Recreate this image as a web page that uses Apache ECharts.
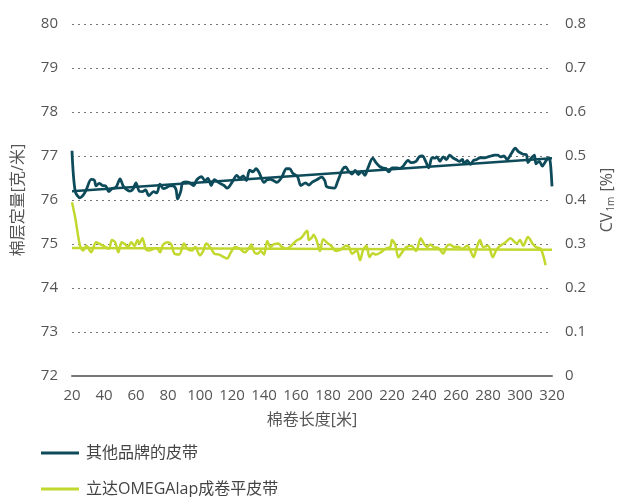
<!DOCTYPE html>
<html>
<head>
<meta charset="utf-8">
<script src="https://cdn.jsdelivr.net/npm/echarts@6/dist/echarts.min.js"></script>
<style>
	html, body {margin: 0; padding: 0; background: #fff;}
	#main {width: 625px; height: 497px;}
</style>
</head>
<body>
<div id="main"></div>
<script>
// 棉卷长度 [米] / 棉层定量 [克/米]
var otherX = [20,22,25,27,29,32,34,35,37,39,41,43,45,47,48,50,52,54,56,58,60,62,64,66,68,71,73,75,77,79,81,83,85,86,88,89,91,93,96,98,101,103,105,107,109,112,115,117,120,123,125,127,129,131,133,135,137,140,142,144,146,148,151,154,156,158,161,163,166,168,170,173,176,178,179,181,184,186,189,191,193,195,197,199,201,203,205,208,210,212,214,216,218,220,223,225,227,230,232,235,237,239,241,243,245,247,248,250,252,254,256,258,260,262,264,265,267,269,271,273,275,278,280,282,284,286,288,290,292,294,295,297,299,302,304,305,307,309,310,312,314,316,318,319,320];
var otherY = [77.12,76.2,76.05,76.11,76.24,76.47,76.45,76.32,76.38,76.33,76.32,76.19,76.26,76.28,76.32,76.48,76.32,76.24,76.2,76.24,76.39,76.2,76.19,76.23,76.1,76.19,76.16,76.36,76.26,76.28,76.32,76.32,76.24,76.02,76.2,76.39,76.41,76.4,76.33,76.46,76.53,76.44,76.49,76.33,76.46,76.39,76.33,76.27,76.4,76.56,76.49,76.55,76.44,76.68,76.64,76.71,76.62,76.4,76.46,76.47,76.44,76.4,76.51,76.71,76.71,76.61,76.53,76.33,76.39,76.34,76.4,76.46,76.52,76.44,76.31,76.28,76.27,76.42,76.69,76.75,76.65,76.59,76.67,76.58,76.65,76.56,76.73,76.95,76.85,76.77,76.73,76.72,76.64,76.73,76.73,76.72,76.77,76.9,76.85,76.88,76.98,77.0,76.88,76.73,76.96,76.95,76.98,76.88,76.98,76.92,77.02,76.96,76.92,76.88,76.92,76.82,76.9,76.81,76.9,76.92,76.96,76.96,76.98,77.0,77.02,77.02,76.98,77.0,76.92,77.02,77.08,77.18,77.1,77.04,77.03,76.85,76.95,77.02,76.82,76.88,76.77,76.88,76.96,76.84,76.31];
var otherTrendX = [20, 320];
var otherTrendY = [76.2, 76.95];

// CV 1m [%]
var omegaX = [20,22,25,27,29,32,35,37,41,43,45,47,49,51,53,55,57,59,61,62,64,66,68,71,73,75,77,80,82,84,87,90,92,95,97,100,102,104,107,109,112,115,117,119,122,125,128,131,132,134,136,138,140,142,144,146,149,151,154,157,160,163,167,168,170,171,173,175,177,180,182,185,188,191,193,195,198,200,202,204,206,208,210,213,216,219,220,222,224,227,229,232,235,238,240,242,244,246,249,252,254,256,259,261,264,267,269,271,273,275,277,280,283,285,287,291,294,296,298,300,302,305,308,310,313,316];
var omegaY = [0.395,0.36,0.296,0.285,0.296,0.281,0.304,0.301,0.293,0.289,0.309,0.304,0.281,0.304,0.3,0.293,0.304,0.296,0.309,0.301,0.313,0.289,0.285,0.289,0.291,0.281,0.299,0.304,0.299,0.278,0.276,0.301,0.289,0.285,0.293,0.274,0.284,0.301,0.289,0.278,0.276,0.27,0.267,0.279,0.293,0.289,0.281,0.293,0.299,0.281,0.278,0.284,0.276,0.307,0.293,0.299,0.301,0.294,0.289,0.296,0.307,0.313,0.33,0.309,0.315,0.321,0.307,0.284,0.311,0.301,0.296,0.284,0.287,0.296,0.294,0.278,0.285,0.263,0.287,0.296,0.27,0.279,0.276,0.281,0.289,0.294,0.309,0.299,0.27,0.285,0.293,0.296,0.284,0.313,0.3,0.293,0.299,0.293,0.291,0.278,0.294,0.299,0.293,0.294,0.289,0.296,0.285,0.27,0.293,0.309,0.293,0.296,0.27,0.285,0.294,0.304,0.313,0.307,0.301,0.309,0.296,0.316,0.3,0.293,0.289,0.252];
var omegaTrendX = [20, 320];
var omegaTrendY = [0.291, 0.287];

var seriesNames = ["其他品牌的皮带", "立达OMEGAlap成卷平皮带"];
var colors = ["#0e4b5a", "#c3d82e"];
var fontFamily = "'Open Sans', 'Noto Sans CJK SC', sans-serif";
var textColor = "#555";

function pairs(xs, ys){
	return xs.map(function(x, i){ return [x, ys[i]]; });
}

function lineSeries(name, data, color, axisIdx, width, silent){
	return {
		name: name,
		type: "line",
		yAxisIndex: axisIdx,
		data: data,
		showSymbol: false,
		symbol: "none",
		smooth: 0.3,
		silent: !!silent,
		lineStyle: {color: color, width: width},
		itemStyle: {color: color},
		z: silent ? 3 : 2
	};
}

// one legend per row, the bottom strip is too short for a vertical list
function legendRow(name, top){
	return {
		data: [name],
		left: 36,
		top: top,
		itemWidth: 38,
		itemHeight: 3,
		icon: "rect",
		selectedMode: false,
		textStyle: {fontSize: 16, color: "#444", fontFamily: fontFamily, padding: [0, 0, 0, 2]}
	};
}

var chart = echarts.init(document.getElementById("main"));
var gridLine = {show: true, lineStyle: {color: "#777", type: [2, 4], width: 1.2}};

chart.setOption({
	animation: false,
	textStyle: {fontFamily: fontFamily},
	grid: {left: 72, right: 73, top: 24, bottom: 121},
	legend: [legendRow(seriesNames[0], 440), legendRow(seriesNames[1], 476)],
	xAxis: {
		type: "value",
		min: 20,
		max: 320,
		interval: 20,
		name: "棉卷长度[米]",
		nameLocation: "middle",
		nameGap: 36,
		nameTextStyle: {fontSize: 16, color: textColor},
		axisLine: {lineStyle: {color: "#777", width: 2}},
		axisTick: {show: false},
		axisLabel: {fontSize: 15, color: textColor, margin: 12},
		splitLine: {show: false}
	},
	yAxis: [{
		type: "value",
		min: 72,
		max: 80,
		interval: 1,
		name: "棉层定量[克/米]",
		nameLocation: "middle",
		nameGap: 46,
		nameRotate: 90,
		nameTextStyle: {fontSize: 16, color: textColor},
		axisLine: {show: false},
		axisTick: {show: false},
		axisLabel: {fontSize: 15, color: textColor, margin: 14},
		splitLine: gridLine
	}, {
		type: "value",
		min: 0,
		max: 0.8,
		interval: 0.1,
		position: "right",
		name: "{a|CV}{b|1m}{a| [%]}",
		nameLocation: "middle",
		nameGap: 46,
		nameRotate: 90,
		nameTextStyle: {
			color: textColor,
			rich: {
				a: {fontSize: 16, color: textColor, fontFamily: fontFamily},
				b: {fontSize: 10, color: textColor, fontFamily: fontFamily, verticalAlign: "bottom", padding: [8, 1, 0, 1]}
			}
		},
		axisLine: {show: false},
		axisTick: {show: false},
		axisLabel: {fontSize: 15, color: textColor, margin: 13},
		splitLine: {show: false}
	}],
	series: [
		lineSeries(seriesNames[0], pairs(otherX, otherY), colors[0], 0, 2.8),
		lineSeries(seriesNames[1], pairs(omegaX, omegaY), colors[1], 1, 2.5),
		lineSeries("trend1", pairs(otherTrendX, otherTrendY), colors[0], 0, 2.5, true),
		lineSeries("trend2", pairs(omegaTrendX, omegaTrendY), colors[1], 1, 2.5, true)
	]
});
</script>
</body>
</html>
